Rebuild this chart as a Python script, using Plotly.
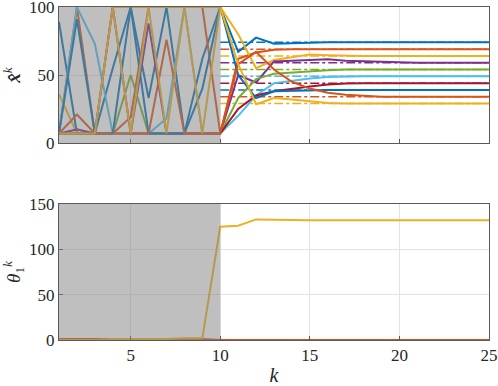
# Import libraries
import plotly.graph_objects as go
from plotly.subplots import make_subplots

# Iterations
k = list(range(1, 26))

# Estimates x_hat^k (one list per agent)
x1 = [89, 7, 7, 55, 100, 33, 100, 7, 62, 100, 67, 77.5, 73, 73.5, 74, 74, 74, 74, 74, 74, 74, 74, 74, 74, 74]
x2 = [7, 100, 7, 7, 19, 100, 100, 100, 100, 7, 62, 66.5, 68.5, 69, 69, 69, 69, 69, 69, 69, 69, 69, 69, 69, 69]
x3 = [36, 7, 7, 100, 100, 100, 100, 100, 100, 100, 80, 55, 61, 63, 65, 64.5, 64, 64, 64, 64, 64, 64, 64, 64, 64]
x4 = [7, 10, 7, 7, 7, 88, 7, 7, 7, 7, 50, 44.5, 60, 60.5, 61, 61.5, 60.5, 60, 59.5, 59, 59, 59, 59, 59, 59]
x5 = [7, 7, 7, 7, 50, 7, 7, 7, 7, 7, 33, 47, 51, 52, 53, 53.5, 54, 54, 54, 54, 54, 54, 54, 54, 54]
x6 = [7, 100, 73, 7, 7, 7, 18, 100, 7, 7, 20, 35, 44, 46, 47.5, 48.5, 49, 49, 49, 49, 49, 49, 49, 49, 49]
x7 = [7, 7, 7, 100, 7, 7, 7, 7, 7, 7, 25, 35, 38, 40, 41.5, 43, 43.8, 44, 44, 44, 44, 44, 44, 44, 44]
x8 = [7, 91, 7, 7, 100, 7, 7, 7, 40, 100, 50, 33, 38, 38.5, 39, 39, 39, 39, 39, 39, 39, 39, 39, 39, 39]
x9 = [7, 21, 7, 7, 7, 7, 76, 7, 7, 7, 58, 67, 54, 45, 40, 37, 35.5, 34.5, 34, 34, 34, 34, 34, 34, 34]
x10 = [7, 7, 7, 100, 7, 100, 7, 100, 7, 100, 58, 28.5, 33, 32, 30.5, 29.5, 29, 29, 29, 29, 29, 29, 29, 29, 29]
estimates = [x1, x2, x3, x4, x5, x6, x7, x8, x9, x10]

# Reference values (dash-dot lines, from k = 10)
ref_k = [10, 25]
ref_values = [74, 69, 64, 59, 54, 49, 44, 39, 34, 29]

# theta_1^k
theta_blue = [0, 0, 0, 0, 0, 0, 0, 0, 0, 0, 0, 0, 0, 0, 0, 0, 0, 0, 0, 0, 0, 0, 0, 0, 0]
theta_orange = [1, 1, 1, 1, 1, 1, 1, 1, 1, 0, 0, 0, 0, 0, 0, 0, 0, 0, 0, 0, 0, 0, 0, 0, 0]
theta_yellow = [0, 0, 0, 1, 1, 1, 1, 2, 2, 125, 126, 133, 132.5, 132, 132, 132, 132, 132, 132, 132, 132, 132, 132, 132, 132]

# Shaded interval
shade_k = [1, 10]

# MATLAB default colours
colors = ['#0072BD', '#D95319', '#EDB120', '#7E2F8E', '#77AC30',
          '#4DBEEE', '#A2142F', '#0072BD', '#D95319', '#EDB120']

serif = 'Liberation Serif, DejaVu Serif, Times New Roman, serif'

fig = make_subplots(rows=2, cols=1, vertical_spacing=0.183)

# Dash-dot reference lines
for val, col in zip(ref_values, colors):
    fig.add_trace(go.Scatter(x=ref_k, y=[val, val], mode='lines',
                             line=dict(color=col, width=1.5, dash='dashdot'),
                             showlegend=False), row=1, col=1)

# Estimate trajectories
for series, col in zip(estimates, colors):
    fig.add_trace(go.Scatter(x=k, y=series, mode='lines',
                             line=dict(color=col, width=2),
                             showlegend=False), row=1, col=1)

# theta trajectories
for series, col in [(theta_blue, colors[0]), (theta_orange, colors[1]), (theta_yellow, colors[2])]:
    fig.add_trace(go.Scatter(x=k, y=series, mode='lines',
                             line=dict(color=col, width=2),
                             showlegend=False), row=2, col=1)

# Gray shading over the first iterations
fig.add_shape(type='rect', xref='x', yref='y', x0=shade_k[0], x1=shade_k[1], y0=0, y1=100,
              fillcolor='rgb(128,128,128)', opacity=0.5, line_width=0, layer='above')
fig.add_shape(type='rect', xref='x2', yref='y2', x0=shade_k[0], x1=shade_k[1], y0=0, y1=150,
              fillcolor='rgb(128,128,128)', opacity=0.5, line_width=0, layer='above')

axis_style = dict(showline=True, mirror=True, linecolor='#5a5a5a', linewidth=1,
                  showgrid=True, gridcolor='#e3e3e3', zeroline=False, automargin=False,
                  ticks='inside', ticklen=4, tickcolor='#5a5a5a', ticklabeloverflow='allow',
                  tickfont=dict(family=serif, size=17, color='#262626'))

fig.update_xaxes(axis_style, range=[1, 25], tickvals=[5, 10, 15, 20, 25])
fig.update_xaxes(showticklabels=False, row=1, col=1)
fig.update_xaxes(title=dict(text='<i>k</i>', font=dict(family=serif, size=20, color='#262626'),
                            standoff=4), row=2, col=1)
fig.update_yaxes(axis_style)
fig.update_yaxes(range=[0, 100], tickvals=[0, 50, 100], row=1, col=1,
                 title=dict(text='<b><i>x&#770;</i></b><sup><i>k</i></sup>',
                            font=dict(family=serif, size=19, color='#262626'), standoff=6))
fig.update_yaxes(range=[0, 150], tickvals=[0, 50, 100, 150], row=2, col=1,
                 title=dict(text='<i>θ</i><sub>1</sub><sup><i>k</i></sup>',
                            font=dict(family=serif, size=19, color='#262626'), standoff=6))

fig.update_layout(
    width=498, height=386,
    margin=dict(l=59, r=9, t=7, b=46, autoexpand=False),
    plot_bgcolor='white', paper_bgcolor='white',
    font=dict(family=serif),
    showlegend=False
)
fig.layout.yaxis.domain = [0.5916, 1.0]
fig.layout.yaxis2.domain = [0.0, 0.4084]

# Remove the default page margin so the figure sits at the window's corner
fig.write_html("out.html", config={'displayModeBar': False},
               post_script="document.body.style.margin='0';")
